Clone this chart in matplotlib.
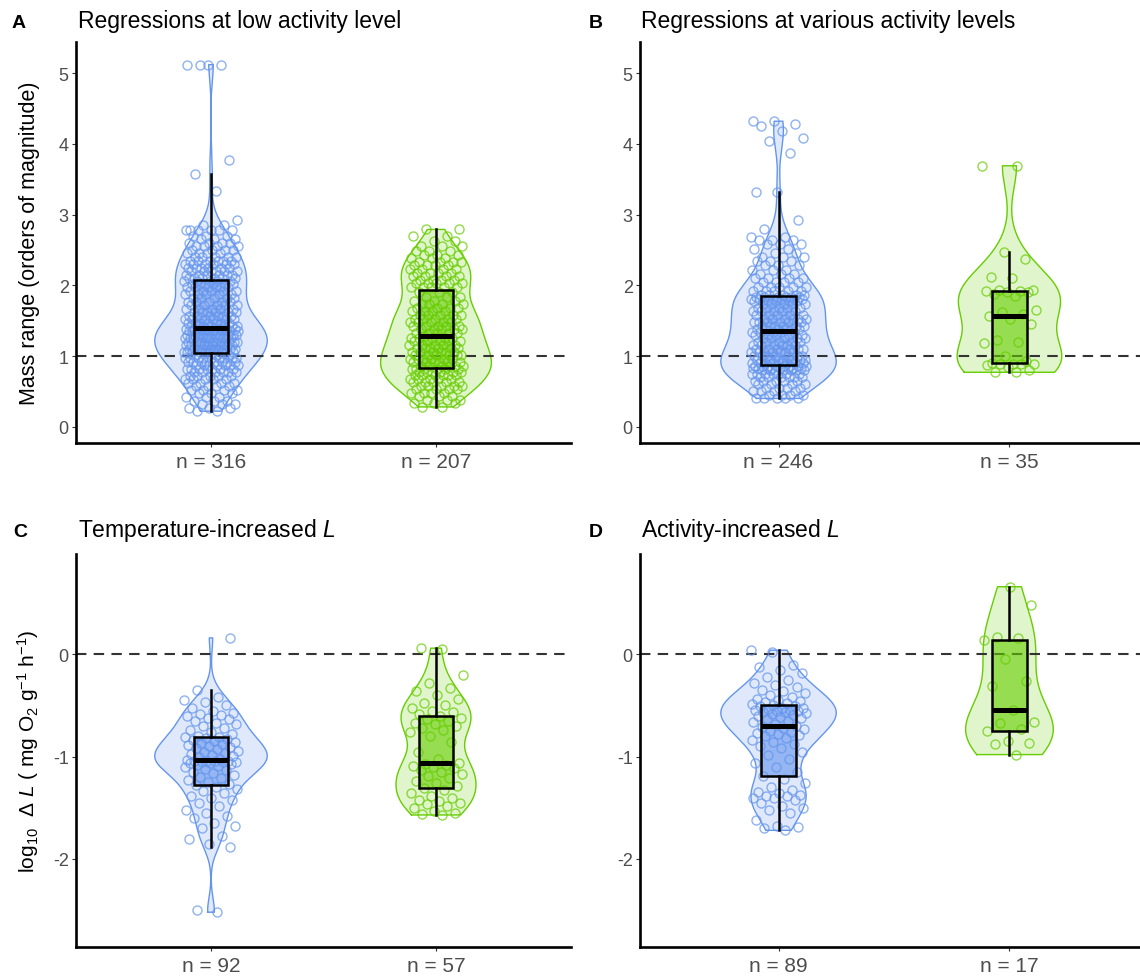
import numpy as np
import matplotlib
matplotlib.use("Agg")
import matplotlib.pyplot as plt
from matplotlib.colors import to_rgba

plt.rcParams['font.family'] = ['Liberation Sans', 'DejaVu Sans']
plt.rcParams['mathtext.fontset'] = 'custom'
plt.rcParams['mathtext.rm'] = 'Liberation Sans'
plt.rcParams['mathtext.it'] = 'Liberation Sans:italic'
plt.rcParams['mathtext.bf'] = 'Liberation Sans:bold'

# ---------------------------------------------------------------------------
# Data
# ---------------------------------------------------------------------------
# A: regressions at low activity level (mass range, orders of magnitude)
a_blue_vals = [0.22, 0.27, 0.32, 0.37, 0.42, 0.47, 0.52, 0.57, 0.62, 0.67, 0.72,
               0.77, 0.82, 0.87, 0.92, 0.97, 1.02,
               1.05, 1.10, 1.15, 1.20, 1.25, 1.30, 1.35, 1.38,
               1.42, 1.47, 1.52, 1.57, 1.62, 1.67, 1.72, 1.77, 1.82, 1.87, 1.92,
               1.97, 2.02, 2.06,
               2.10, 2.15, 2.20, 2.25, 2.30, 2.35, 2.40, 2.45, 2.50, 2.55, 2.60,
               2.65, 2.70, 2.78, 2.85, 2.92, 3.34, 3.57, 3.77, 5.12]
a_blue_counts = [2, 3, 3, 3, 3, 3, 4, 4, 4, 5, 5,
                 6, 7, 7, 8, 9, 3,
                 10, 10, 10, 10, 10, 10, 10, 9,
                 7, 7, 6, 6, 6, 5, 5, 5, 5, 5, 5,
                 6, 6, 5,
                 6, 6, 6, 6, 6, 6, 5, 4, 4, 4, 4,
                 3, 3, 6, 2, 1, 1, 1, 1, 4]
a_green_vals = [0.28, 0.33, 0.38, 0.43, 0.48, 0.53, 0.58, 0.63, 0.68, 0.73, 0.78,
                0.81,
                0.86, 0.91, 0.96, 1.01, 1.06, 1.11, 1.16, 1.21, 1.26, 1.29,
                1.33, 1.38, 1.43, 1.48, 1.53, 1.58, 1.63, 1.68, 1.73, 1.78, 1.83,
                1.90,
                1.98, 2.03, 2.08, 2.13, 2.18, 2.23, 2.28, 2.33, 2.38, 2.43, 2.48,
                2.55, 2.62, 2.70, 2.79]
a_green_counts = [2, 3, 3, 3, 4, 4, 5, 5, 5, 6, 6,
                  6,
                  6, 6, 6, 6, 6, 6, 5, 5, 5, 1,
                  5, 5, 5, 5, 5, 5, 4, 4, 4, 3, 3,
                  3,
                  5, 5, 4, 4, 4, 4, 4, 4, 3, 3, 3,
                  3, 2, 2, 2]

# B: regressions at various activity levels
b_blue_vals = [0.40, 0.45, 0.50, 0.55, 0.60, 0.65, 0.70, 0.75, 0.80, 0.83, 0.86,
               0.90, 0.95, 1.00, 1.05, 1.10, 1.15, 1.20, 1.25, 1.30, 1.34,
               1.38, 1.43, 1.48, 1.53, 1.58, 1.63, 1.68, 1.73, 1.78, 1.80, 1.84,
               1.86, 1.92, 1.98, 2.04, 2.10, 2.16, 2.22, 2.28, 2.34, 2.40, 2.46,
               2.52, 2.58, 2.64, 2.68, 2.80, 2.92, 3.32, 3.87, 4.04, 4.08, 4.18,
               4.25, 4.28, 4.32]
b_blue_counts = [5, 4, 4, 4, 4, 5, 6, 7, 7, 8, 8,
                 8, 7, 7, 7, 6, 6, 5, 5, 5, 5,
                 6, 6, 6, 6, 5, 5, 5, 5, 5, 6, 6,
                 5, 5, 5, 4, 4, 3, 3, 3, 3, 3, 2,
                 2, 3, 3, 2, 1, 1, 2, 1, 1, 1, 1,
                 1, 1, 2]
b_green = [0.77, 0.78, 0.80, 0.85, 0.87, 0.88, 0.88, 0.89, 0.89, 0.90,
           0.93, 1.00, 1.18, 1.20, 1.22, 1.45, 1.52, 1.57, 1.60, 1.62,
           1.65, 1.85, 1.88, 1.90, 1.91, 1.92, 1.92, 1.93, 1.94, 2.10,
           2.12, 2.37, 2.47, 3.68, 3.69]

# C: temperature-increased L (log10 delta L)
c_blue = [-2.52, -2.50, -1.88, -1.85, -1.80, -1.78, -1.70, -1.68, -1.65, -1.60,
          -1.58, -1.55, -1.52, -1.48, -1.45, -1.42, -1.40, -1.38, -1.36, -1.34,
          -1.32, -1.30, -1.28, -1.27, -1.25, -1.23, -1.21, -1.20, -1.18, -1.16,
          -1.15, -1.13, -1.12, -1.10, -1.09, -1.08, -1.07, -1.06, -1.06, -1.05,
          -1.05, -1.05, -1.04, -1.04, -1.04, -1.04, -1.03, -1.02, -1.00, -0.99,
          -0.98, -0.97, -0.96, -0.95, -0.94, -0.93, -0.92, -0.91, -0.90, -0.89,
          -0.88, -0.87, -0.86, -0.85, -0.84, -0.83, -0.82, -0.81, -0.81, -0.80,
          -0.78, -0.76, -0.74, -0.72, -0.70, -0.68, -0.67, -0.65, -0.63, -0.62,
          -0.60, -0.59, -0.58, -0.57, -0.55, -0.52, -0.50, -0.47, -0.45, -0.42,
          -0.35, 0.16]
c_green = [-1.57, -1.56, -1.55, -1.53, -1.50, -1.48, -1.46, -1.45, -1.43, -1.42,
           -1.40, -1.38, -1.36, -1.33, -1.31, -1.29, -1.26, -1.24, -1.21, -1.19,
           -1.17, -1.15, -1.13, -1.11, -1.10, -1.09, -1.08, -1.07, -1.06, -1.02,
           -0.95, -0.86, -0.80, -0.76, -0.74, -0.72, -0.70, -0.68, -0.67, -0.65,
           -0.63, -0.62, -0.60, -0.58, -0.56, -0.55, -0.52, -0.50, -0.48, -0.44,
           -0.40, -0.36, -0.33, -0.28, -0.20, 0.05, 0.06]

# D: activity-increased L (log10 delta L)
d_blue = [-1.72, -1.70, -1.69, -1.68, -1.62, -1.55, -1.52, -1.50, -1.48, -1.45,
          -1.42, -1.40, -1.40, -1.38, -1.38, -1.37, -1.36, -1.35, -1.33, -1.30,
          -1.26, -1.22, -1.19, -1.15, -1.10, -1.06, -1.02, -0.98, -0.95, -0.92,
          -0.90, -0.88, -0.86, -0.84, -0.82, -0.80, -0.79, -0.78, -0.77, -0.76,
          -0.75, -0.73, -0.72, -0.71, -0.70, -0.68, -0.66, -0.65, -0.63, -0.62,
          -0.61, -0.60, -0.59, -0.58, -0.57, -0.56, -0.56, -0.55, -0.55, -0.54,
          -0.54, -0.53, -0.52, -0.52, -0.51, -0.51, -0.50, -0.49, -0.48, -0.47,
          -0.46, -0.45, -0.44, -0.42, -0.40, -0.38, -0.36, -0.35, -0.32, -0.30,
          -0.28, -0.25, -0.22, -0.18, -0.15, -0.12, -0.10, 0.02, 0.04]
d_green = [-0.98, -0.88, -0.87, -0.85, -0.75, -0.73, -0.67, -0.66, -0.54,
           -0.31, -0.26, -0.05, 0.14, 0.16, 0.17, 0.48, 0.66]

panel_letters = ["A", "B", "C", "D"]
panel_titles = ["Regressions at low activity level",
                "Regressions at various activity levels",
                r"Temperature-increased $\mathit{L}$",
                r"Activity-increased $\mathit{L}$"]
ylabel_mass = "Mass range (orders of magnitude)"
ylabel_delta = (r"$\mathrm{log}_{10}$  $\Delta\ \mathit{L}$ ( mg O$_2$ g$^{-1}$ h$^{-1}$)")

# ---------------------------------------------------------------------------
# Styling
# ---------------------------------------------------------------------------
BLUE = "#6495ED"
GREEN = "#66CD00"
COLORS = [BLUE, GREEN]
VIOLIN_WIDTH = 0.5
BOX_WIDTH = 0.15
JITTER_HALF = 0.12
TICK_GREY = "#4D4D4D"

W, H = 1140, 979


def px_rect(left, top, right, bottom):
    return [left / W, 1 - bottom / H, (right - left) / W, (bottom - top) / H]


def expand(vals, counts):
    return np.repeat(np.asarray(vals, float), counts)


def density_profile(x, npts=512):
    x = np.asarray(x, float)
    n = len(x)
    sd = x.std(ddof=1)
    q1, q3 = np.percentile(x, [25, 75])
    bw = 0.9 * min(sd, (q3 - q1) / 1.34) * n ** -0.2
    grid = np.linspace(x.min(), x.max(), npts)
    z = (grid[:, None] - x[None, :]) / bw
    dens = np.exp(-0.5 * z ** 2).sum(axis=1) / (n * bw * np.sqrt(2 * np.pi))
    return grid, dens


def spread(n):
    k = np.arange(1, n + 1)
    return ((k * 0.6180339887498949) % 1.0 - 0.5) * 2 * JITTER_HALF


def draw_panel(ax, groups, ref, ylim, yticks):
    profiles = [density_profile(g) for g in groups]
    dmax = max(d.max() for _, d in profiles)
    positions = [1, 2]
    for pos, g, (grid, dens), col in zip(positions, groups, profiles, COLORS):
        half = dens / dmax * VIOLIN_WIDTH / 2
        ax.fill_betweenx(grid, pos - half, pos + half,
                         facecolor=to_rgba(col, 0.2), edgecolor="none", zorder=1)
        xs = np.concatenate([pos - half, (pos + half)[::-1], [pos - half[0]]])
        ys = np.concatenate([grid, grid[::-1], [grid[0]]])
        ax.plot(xs, ys, color=col, lw=1.0, zorder=2)

    ax.axhline(ref, color="#333333", lw=1.5, ls=(0, (5, 3.5)), zorder=2.5)

    # box fills
    bp = ax.boxplot(groups, positions=positions, widths=BOX_WIDTH, whis=1.5,
                    showfliers=False, showcaps=False, patch_artist=True,
                    manage_ticks=False, zorder=3)
    for patch, col in zip(bp["boxes"], COLORS):
        patch.set_facecolor(to_rgba(col, 0.6))
        patch.set_edgecolor("none")
    for key in ("whiskers", "medians"):
        for ln in bp[key]:
            ln.set_visible(False)

    # jittered points
    for pos, g, col in zip(positions, groups, COLORS):
        g = np.asarray(g, float)
        ax.plot(pos + spread(len(g)), g, ls="none", marker="o", ms=6.5,
                mfc="none", mec=to_rgba(col, 0.72), mew=1.0, zorder=4)

    # box outlines, whiskers and medians on top
    ax.boxplot(groups, positions=positions, widths=BOX_WIDTH, whis=1.5,
               showfliers=False, showcaps=False, patch_artist=True,
               manage_ticks=False, zorder=5,
               boxprops=dict(facecolor="none", edgecolor="black", linewidth=1.8),
               whiskerprops=dict(color="black", linewidth=1.8),
               medianprops=dict(color="black", linewidth=3.6, solid_capstyle="butt"))

    ax.set_xlim(0.4, 2.6)
    ax.set_ylim(*ylim)
    ax.set_xticks(positions)
    ax.set_xticklabels([f"n = {len(g)}" for g in groups])
    ax.set_yticks(yticks)
    ax.set_yticklabels([f"{t:g}" for t in yticks])
    for side in ("top", "right"):
        ax.spines[side].set_visible(False)
    for side in ("left", "bottom"):
        ax.spines[side].set_linewidth(1.9)
        ax.spines[side].set_color("black")
    ax.tick_params(axis="y", length=3.2, width=0.8, color="#333333",
                   labelcolor=TICK_GREY, labelsize=13, pad=2)
    ax.tick_params(axis="x", length=3.2, width=0.8, color="#333333",
                   labelcolor=TICK_GREY, labelsize=15, pad=3)
    ax.set_facecolor("none")


fig = plt.figure(figsize=(W / 100, H / 100), dpi=100)

groups_a = [expand(a_blue_vals, a_blue_counts), expand(a_green_vals, a_green_counts)]
groups_b = [expand(b_blue_vals, b_blue_counts), np.asarray(b_green)]
groups_c = [np.asarray(c_blue), np.asarray(c_green)]
groups_d = [np.asarray(d_blue), np.asarray(d_green)]

ax_a = fig.add_axes(px_rect(76, 43, 571, 444))
ax_b = fig.add_axes(px_rect(640, 43, 1148, 444))
ax_c = fig.add_axes(px_rect(76, 555, 571, 948))
ax_d = fig.add_axes(px_rect(640, 555, 1148, 948))

top_lim = (-0.23, 5.44)
bot_lim = (-2.86, 0.98)
draw_panel(ax_a, groups_a, 1, top_lim, [0, 1, 2, 3, 4, 5])
draw_panel(ax_b, groups_b, 1, top_lim, [0, 1, 2, 3, 4, 5])
draw_panel(ax_c, groups_c, 0, bot_lim, [-2, -1, 0])
draw_panel(ax_d, groups_d, 0, bot_lim, [-2, -1, 0])

# panel letters and titles
letter_pos = [(12, 28), (589, 28), (13, 537), (589, 537)]
title_pos = [(78, 28), (641, 28), (78, 537), (641, 537)]
for letter, (lx, ly), title, (tx, ty) in zip(panel_letters, letter_pos,
                                             panel_titles, title_pos):
    fig.text(lx / W, 1 - ly / H, letter, fontsize=14, fontweight="bold",
             ha="left", va="baseline")
    fig.text(tx / W, 1 - ty / H, title, fontsize=16.5, ha="left", va="baseline")

fig.text(30 / W, 1 - 243 / H, ylabel_mass, rotation=90, fontsize=15.5,
         ha="center", va="center")
fig.text(28 / W, 1 - 751 / H, ylabel_delta, rotation=90, fontsize=15,
         ha="center", va="center")

fig.savefig("out.png", dpi=100)
